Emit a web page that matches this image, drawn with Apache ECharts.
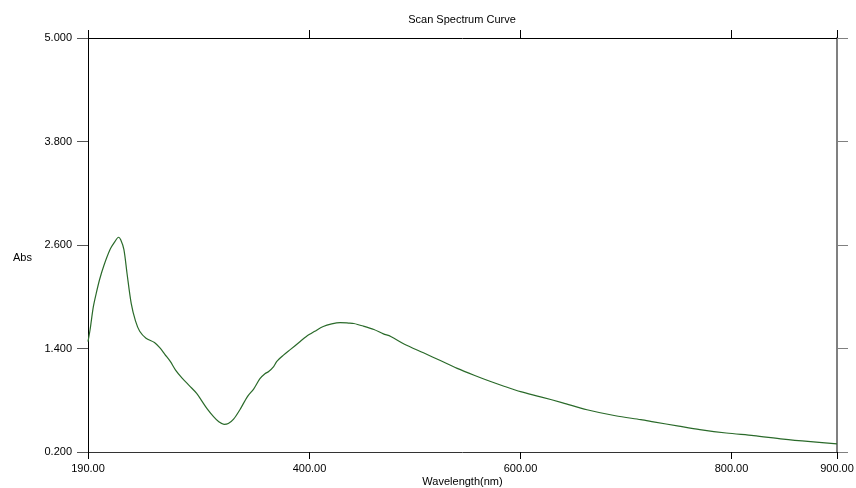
<!DOCTYPE html>
<html>
<head>
<meta charset="utf-8">
<script src="https://cdn.jsdelivr.net/npm/echarts@6/dist/echarts.min.js"></script>
<style>
  html, body { margin: 0; padding: 0; background: #fff; }
  #chart { width: 856px; height: 488px; }
</style>
</head>
<body>
<div id="chart"></div>
<script>
// wavelength (nm) and absorbance
var wavelength = [190, 192, 195, 198, 201, 205, 211, 215, 219, 221, 224, 227, 231, 235, 239, 245, 253, 258, 263, 268,
    273, 279, 286, 293, 298, 303, 309, 314, 319, 323, 328, 334, 341, 347, 353, 358, 361, 366, 369, 375,
    382, 390, 397, 405, 413, 421, 429, 437, 442, 451, 461, 470, 477, 490, 508, 524, 540, 556, 571, 585,
    600, 619, 640, 663, 690, 714, 726, 750, 770, 795, 821, 849, 875, 900]
var absValues = [1.48, 1.62, 1.88, 2.05, 2.20, 2.36, 2.55, 2.63, 2.69, 2.66, 2.55, 2.27, 1.92, 1.72, 1.60, 1.52, 1.47, 1.41, 1.33, 1.25,
    1.15, 1.06, 0.97, 0.88, 0.79, 0.70, 0.61, 0.55, 0.52, 0.53, 0.58, 0.69, 0.84, 0.93, 1.05, 1.11, 1.13, 1.19, 1.25, 1.32,
    1.39, 1.47, 1.54, 1.60, 1.655, 1.685, 1.70, 1.695, 1.69, 1.66, 1.62, 1.57, 1.54, 1.45, 1.35, 1.26, 1.17, 1.09, 1.02, 0.96,
    0.90, 0.84, 0.77, 0.69, 0.62, 0.575, 0.55, 0.50, 0.46, 0.42, 0.39, 0.35, 0.32, 0.295]
var xTicks = [190, 400, 600, 800, 900]
var yTicks = [0.2, 1.4, 2.6, 3.8, 5.0]

var seriesData = []
for (var i = 0; i < wavelength.length; i++) {
    seriesData.push([wavelength[i], absValues[i]])
}

var labelFont = { fontFamily: 'Liberation Sans, Arial, sans-serif', fontSize: 11, color: '#000' }

var myChart = echarts.init(document.getElementById('chart'))
var option = {
    animation: false,
    backgroundColor: '#fff',
    grid: { left: 88, right: 19, top: 38, bottom: 36, outerBoundsMode: 'none', containLabel: false },
    graphic: [
        {
            type: 'text',
            x: 462,
            y: 20,
            style: {
                text: 'Scan Spectrum Curve',
                textAlign: 'center',
                textVerticalAlign: 'middle',
                font: '11px Liberation Sans, Arial, sans-serif',
                fill: '#000',
            },
        },
        {
            type: 'text',
            x: 13,
            y: 258,
            style: {
                text: 'Abs',
                textVerticalAlign: 'middle',
                font: '11px Liberation Sans, Arial, sans-serif',
                fill: '#000',
            },
        },
    ],
    xAxis: [
        {
            type: 'value',
            position: 'bottom',
            min: 190,
            max: 900,
            name: 'Wavelength(nm)',
            nameLocation: 'middle',
            nameGap: 24,
            nameMoveOverlap: false,
            nameTextStyle: labelFont,
            axisLine: { lineStyle: { color: '#333', width: 1 } },
            axisTick: { show: true, length: 7, customValues: xTicks, lineStyle: { color: '#000' } },
            axisLabel: {
                customValues: xTicks,
                margin: 11,
                formatter: function (v) { return v.toFixed(2) },
                fontFamily: labelFont.fontFamily,
                fontSize: 11,
                color: '#000',
            },
            splitLine: { show: false },
        },
        {
            type: 'value',
            position: 'top',
            min: 190,
            max: 900,
            axisLine: { lineStyle: { color: '#000', width: 1 } },
            axisTick: { show: true, length: 8, customValues: xTicks, lineStyle: { color: '#000' } },
            axisLabel: { show: false },
            splitLine: { show: false },
        },
    ],
    yAxis: [
        {
            type: 'value',
            position: 'left',
            min: 0.2,
            max: 5.0,
            axisLine: { show: true, lineStyle: { color: '#000', width: 1 } },
            axisTick: { show: true, length: 11, customValues: yTicks, lineStyle: { color: '#555' } },
            axisLabel: {
                customValues: yTicks,
                margin: 16,
                formatter: function (v) { return v.toFixed(3) },
                fontFamily: labelFont.fontFamily,
                fontSize: 11,
                color: '#000',
            },
            splitLine: { show: false },
        },
        {
            type: 'value',
            position: 'right',
            min: 0.2,
            max: 5.0,
            axisLine: { show: true, lineStyle: { color: '#808080', width: 2 } },
            axisTick: { show: true, length: 11, customValues: yTicks, lineStyle: { color: '#808080' } },
            axisLabel: { show: false },
            splitLine: { show: false },
        },
    ],
    series: [
        {
            type: 'line',
            xAxisIndex: 0,
            yAxisIndex: 0,
            data: seriesData,
            showSymbol: false,
            smooth: 0.3,
            lineStyle: { color: '#2a6a2a', width: 1.2 },
        },
    ],
}
myChart.setOption(option)
</script>
</body>
</html>
